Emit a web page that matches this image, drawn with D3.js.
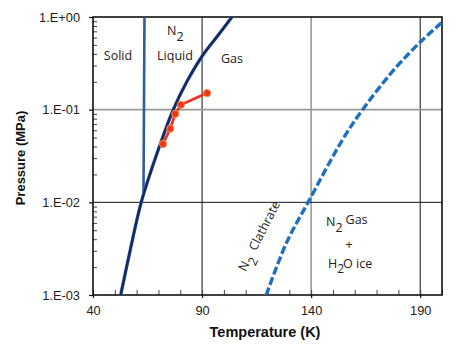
<!DOCTYPE html>
<html>
<head>
<meta charset="utf-8">
<script src="https://cdn.jsdelivr.net/npm/d3@7"></script>
<style>
  html, body { margin: 0; padding: 0; background: #fff; }
  svg { display: block; }
  .tick text { font-family: "Liberation Sans", Arial, sans-serif; font-size: 12.8px; fill: #222; }
  .lbl { font-family: "Open Sans", "Noto Sans", sans-serif; font-size: 12.5px; fill: #222; }
</style>
</head>
<body>
<svg id="chart" width="459" height="347"></svg>
<script>
// ---- data ----
const xTicks = [40, 90, 140, 190];
const xMinorTicks = [50, 60, 70, 80, 100, 110, 120, 130, 150, 160, 170, 180, 200];
const yTicks = [0.001, 0.01, 0.1, 1];
const yTickLabels = ["1.E-03", "1.E-02", "1.E-01", "1.E+00"];

// N2 vapour / sublimation curve (T in K, P in MPa)
const vaporT = [52.7, 57.0, 62.1, 69.0, 76.8, 83.0, 90.1, 97.0, 103.7];
const vaporP = [0.001, 0.003, 0.01, 0.032, 0.1, 0.2, 0.38, 0.62, 1.0];

// N2 melting line
const meltT = [63.15, 63.6];
const meltP = [0.0128, 1.0];

// N2 clathrate dissociation curve (dashed)
const clathT = [119.4, 128.8, 138.6, 154.4, 163.6, 178.0, 190.4, 200.5];
const clathP = [0.001, 0.0037, 0.01, 0.0474, 0.1, 0.27, 0.546, 0.897];

// red measured points
const redT = [72.1, 75.4, 77.7, 80.3, 92.3];
const redP = [0.0427, 0.0624, 0.090, 0.113, 0.151];

// ---- chart ----
const svg = d3.select("#chart");
const L = 93, R = 442, T = 17, B = 295;
const x = d3.scaleLinear().domain([40, 200]).range([L, R]);
const y = d3.scaleLog().domain([0.001, 1]).range([B, T]);

// gridlines
const gridX = [{v: 90, c: "#111", w: 1}, {v: 140, c: "#999", w: 1.6}, {v: 190, c: "#111", w: 1}];
const gridY = [{v: 0.01, c: "#111", w: 1}, {v: 0.1, c: "#999", w: 1.6}];
svg.append("g").selectAll("line").data(gridX).join("line")
  .attr("x1", d => x(d.v)).attr("x2", d => x(d.v)).attr("y1", T).attr("y2", B)
  .attr("stroke", d => d.c).attr("stroke-width", d => d.w);
svg.append("g").selectAll("line").data(gridY).join("line")
  .attr("y1", d => y(d.v)).attr("y2", d => y(d.v)).attr("x1", L).attr("x2", R)
  .attr("stroke", d => d.c).attr("stroke-width", d => d.w);

// y minor ticks (inside)
const yMinor = [];
[0.001, 0.01, 0.1].forEach(d => { for (let k = 2; k <= 9; k++) yMinor.push(d * k); });
svg.append("g").attr("transform", `translate(${L},0)`)
  .call(d3.axisRight(y).tickValues(yMinor).tickSize(4).tickFormat(""))
  .call(g => g.select(".domain").remove())
  .call(g => g.selectAll("line").attr("stroke", "#444"));

// y major axis
svg.append("g").attr("transform", `translate(${L},0)`)
  .call(d3.axisLeft(y).tickValues(yTicks).tickSize(4).tickPadding(9)
    .tickFormat((d, i) => yTickLabels[i]))
  .call(g => g.select(".domain").remove())
  .call(g => g.selectAll("line").attr("stroke", "#111").attr("stroke-width", 1.2));

// x minor ticks (inside)
svg.append("g").attr("transform", `translate(0,${B})`)
  .call(d3.axisTop(x).tickValues(xMinorTicks.concat(xTicks)).tickSize(5).tickFormat(""))
  .call(g => g.select(".domain").remove())
  .call(g => g.selectAll("line").attr("stroke", "#444"));

// x major axis
svg.append("g").attr("transform", `translate(0,${B})`)
  .call(d3.axisBottom(x).tickValues(xTicks).tickSize(3).tickPadding(8).tickFormat(d3.format("d")))
  .call(g => g.select(".domain").remove())
  .call(g => g.selectAll("line").attr("stroke", "#111").attr("stroke-width", 1.2));

// frame
svg.append("rect").attr("x", L).attr("y", T).attr("width", R - L).attr("height", B - T)
  .attr("fill", "none").attr("stroke", "#111").attr("stroke-width", 1.6);

svg.append("clipPath").attr("id", "clip").append("rect")
  .attr("x", L).attr("y", T - 2).attr("width", R - L + 1).attr("height", B - T + 2);
const plot = svg.append("g").attr("clip-path", "url(#clip)");

const line = d3.line().x(d => x(d[0])).y(d => y(d[1])).curve(d3.curveCatmullRom.alpha(0.5));

// melting line
plot.append("path").datum(meltT.map((t, i) => [t, meltP[i]]))
  .attr("d", d3.line().x(d => x(d[0])).y(d => y(d[1])))
  .attr("fill", "none").attr("stroke", "#2d5d9c").attr("stroke-width", 2.6);

// vapour curve
const vap = vaporT.map((t, i) => [t, vaporP[i]]);
plot.append("path").datum(vap).attr("d", line)
  .attr("fill", "none").attr("stroke", "#3d6fb5").attr("stroke-width", 3.4);
plot.append("path").datum(vap).attr("d", line)
  .attr("fill", "none").attr("stroke", "#15295e").attr("stroke-width", 2.4);

// clathrate curve
plot.append("path").datum(clathT.map((t, i) => [t, clathP[i]])).attr("d", line)
  .attr("fill", "none").attr("stroke", "#1f6fc0").attr("stroke-width", 3.4)
  .attr("stroke-dasharray", "8,3");

// red measurements
const red = redT.map((t, i) => [t, redP[i]]);
plot.append("path").datum(red).attr("d", d3.line().x(d => x(d[0])).y(d => y(d[1])))
  .attr("fill", "none").attr("stroke", "#ee3322").attr("stroke-width", 2.8);
plot.append("g").selectAll("circle").data(red).join("circle")
  .attr("cx", d => x(d[0])).attr("cy", d => y(d[1])).attr("r", 3.6)
  .attr("fill", "#ee3322").attr("stroke", "#f4913a").attr("stroke-width", 1);

// region labels
function lbl(xp, yp, txt, anchor) {
  return svg.append("text").attr("class", "lbl").attr("x", xp).attr("y", yp)
    .attr("text-anchor", anchor || "middle").text(txt);
}
lbl(118, 60, "Solid");
lbl(175, 60, "Liquid");
lbl(232, 63, "Gas");
const n2 = svg.append("text").attr("class", "lbl").attr("x", 167).attr("y", 35);
n2.append("tspan").text("N");
n2.append("tspan").attr("dy", 6).text("2");

// N2 Clathrate rotated
const cl = svg.append("text").attr("class", "lbl")
  .attr("transform", "translate(263,238) rotate(-63)").attr("text-anchor", "middle");
cl.append("tspan").text("N");
cl.append("tspan").attr("dy", 6).text("2");
cl.append("tspan").attr("dy", -6).text("\u00a0 Clathrate");

// N2 Gas + H2O ice
const g1 = svg.append("text").attr("class", "lbl").attr("x", 326).attr("y", 226);
g1.append("tspan").text("N");
g1.append("tspan").attr("dy", 6).text("2");
g1.append("tspan").attr("dy", -8).attr("dx", 3).text("Gas");
lbl(349, 249, "+");
const g2 = svg.append("text").attr("class", "lbl").attr("x", 328).attr("y", 268);
g2.append("tspan").text("H");
g2.append("tspan").attr("dy", 5).attr("font-size", 12).text("2");
g2.append("tspan").attr("dy", -5).attr("dx", -1).text("O ice");

// axis titles
svg.append("text").attr("x", 265).attr("y", 337).attr("text-anchor", "middle")
  .attr("font-family", "'Liberation Sans', Arial, sans-serif").attr("font-weight", "bold")
  .attr("font-size", 14.5).attr("fill", "#111").text("Temperature (K)");
svg.append("text").attr("transform", "translate(25,158) rotate(-90)").attr("text-anchor", "middle")
  .attr("font-family", "'Liberation Sans', Arial, sans-serif").attr("font-weight", "bold")
  .attr("font-size", 13).attr("fill", "#111").text("Pressure (MPa)");
</script>
</body>
</html>
